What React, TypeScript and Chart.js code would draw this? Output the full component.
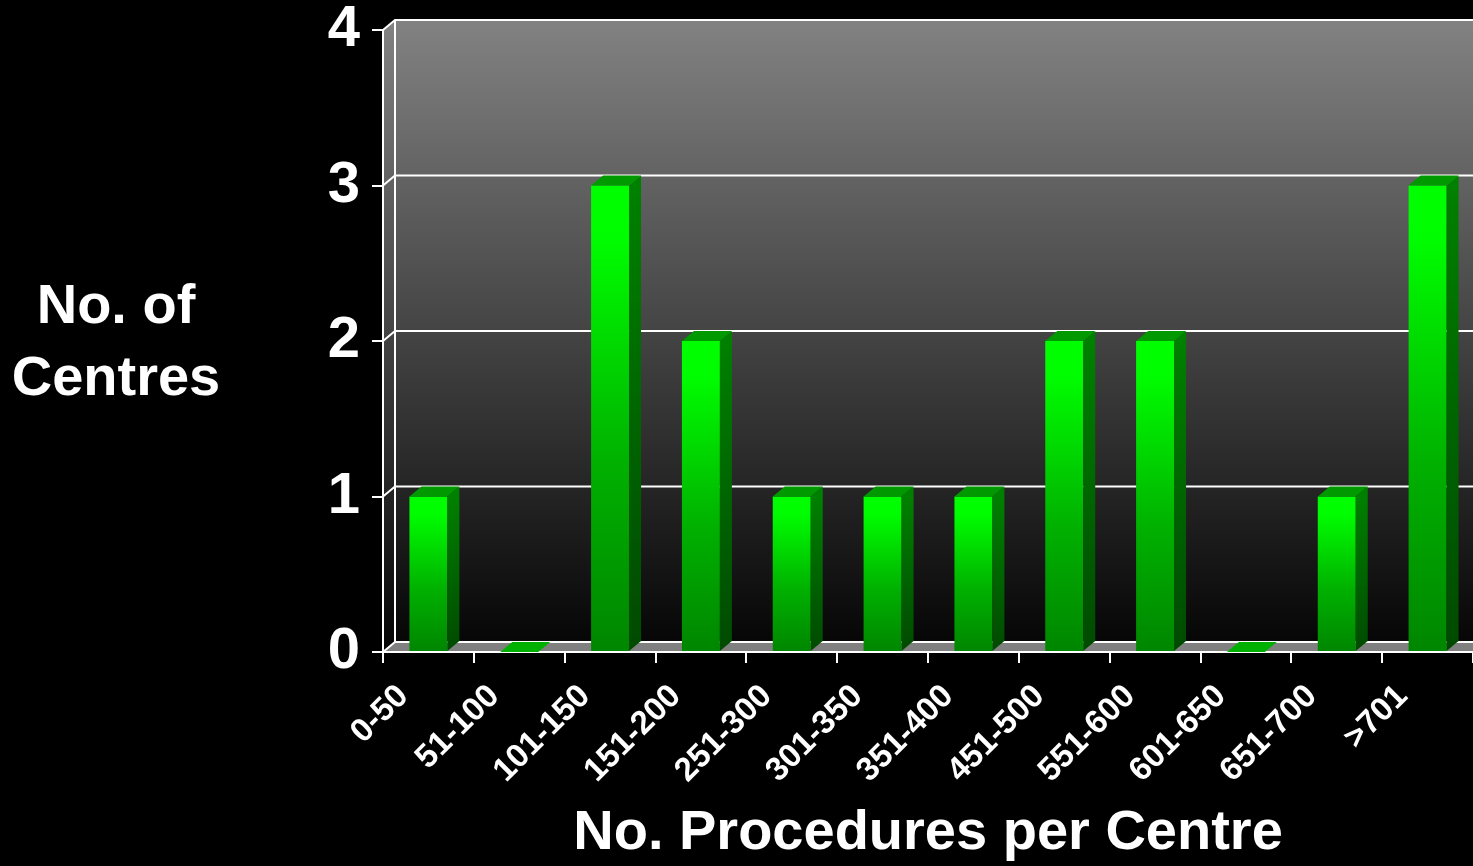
import React, { useEffect, useRef } from "react";
import { Chart, registerables } from "chart.js";

Chart.register(...registerables);

const categories = [
  "0-50", "51-100", "101-150", "151-200", "251-300", "301-350",
  "351-400", "451-500", "551-600", "601-650", "651-700", ">701",
];
const centres = [1, 0, 3, 2, 1, 1, 1, 2, 2, 0, 1, 3];
const yMin = 0;
const yMax = 4;
const yTitleLines = ["No. of", "Centres"];
const xTitle = "No. Procedures per Centre";

const DX = 12;
const DY = 10;
const FONT = "'Liberation Sans', Arial, sans-serif";
const NARROW = "'Liberation Sans Narrow', 'Arial Narrow', 'Liberation Sans', Arial, sans-serif";

const ok = (...v: number[]) => v.every((n) => Number.isFinite(n));

const wallsPlugin = {
  id: "walls3d",
  beforeDatasetsDraw(chart: any) {
    const { ctx, chartArea: a, scales } = chart;
    const y = scales.y;
    const L = a.left, T = a.top, B = a.bottom;
    const W = chart.width;
    if (!ok(L, T, B, W)) return;
    ctx.save();
    const g = ctx.createLinearGradient(0, T - DY, 0, B - DY);
    g.addColorStop(0, "#828282");
    g.addColorStop(1, "#060606");
    ctx.fillStyle = g;
    ctx.fillRect(L + DX, T - DY, W - L - DX, B - T);
    ctx.beginPath();
    ctx.moveTo(L, T);
    ctx.lineTo(L + DX, T - DY);
    ctx.lineTo(L + DX, B - DY);
    ctx.lineTo(L, B);
    ctx.closePath();
    ctx.fill();
    ctx.fillStyle = "#808080";
    ctx.beginPath();
    ctx.moveTo(L, B);
    ctx.lineTo(L + DX, B - DY);
    ctx.lineTo(W, B - DY);
    ctx.lineTo(W, B);
    ctx.closePath();
    ctx.fill();
    ctx.strokeStyle = "#ffffff";
    ctx.lineWidth = 2;
    for (let v = yMin; v <= yMax; v++) {
      const yp = y.getPixelForValue(v);
      ctx.beginPath();
      ctx.moveTo(L, yp);
      ctx.lineTo(L + DX, yp - DY);
      ctx.lineTo(W, yp - DY);
      ctx.stroke();
    }
    ctx.beginPath();
    ctx.moveTo(L + DX, T - DY);
    ctx.lineTo(L + DX, B - DY);
    ctx.stroke();
    ctx.beginPath();
    ctx.moveTo(L, T);
    ctx.lineTo(L, B);
    ctx.lineTo(W, B);
    ctx.stroke();
    ctx.restore();
  },
  afterDatasetsDraw(chart: any) {
    const { ctx } = chart;
    const meta = chart.getDatasetMeta(0);
    ctx.save();
    meta.data.forEach((bar: any) => {
      const { x, y, base, width } = bar.getProps(["x", "y", "base", "width"], true);
      if (!ok(x, y, base, width)) return;
      const l = x - width / 2;
      const r = x + width / 2;
      const zero = Math.abs(base - y) < 0.5;
      if (!zero) {
        const sg = ctx.createLinearGradient(0, y, 0, base);
        sg.addColorStop(0, "#008000");
        sg.addColorStop(1, "#004a00");
        ctx.fillStyle = sg;
        ctx.beginPath();
        ctx.moveTo(r, y);
        ctx.lineTo(r + DX, y - DY);
        ctx.lineTo(r + DX, base - DY);
        ctx.lineTo(r, base);
        ctx.closePath();
        ctx.fill();
      }
      ctx.fillStyle = zero ? "#00b000" : "#009a00";
      ctx.beginPath();
      ctx.moveTo(l, y);
      ctx.lineTo(r, y);
      ctx.lineTo(r + DX, y - DY);
      ctx.lineTo(l + DX, y - DY);
      ctx.closePath();
      ctx.fill();
    });
    ctx.restore();
  },
  afterDraw(chart: any) {
    const { ctx } = chart;
    ctx.save();
    ctx.fillStyle = "#ffffff";
    ctx.font = `bold 56px ${FONT}`;
    ctx.textAlign = "center";
    ctx.textBaseline = "alphabetic";
    ctx.fillText(yTitleLines[0], 116, 323);
    ctx.fillText(yTitleLines[1], 116, 395);
    ctx.restore();
  },
};

export default function App() {
  const ref = useRef<HTMLCanvasElement>(null);
  useEffect(() => {
    document.body.style.margin = "0";
    const chart = new Chart(ref.current as HTMLCanvasElement, {
      type: "bar",
      data: {
        labels: categories,
        datasets: [
          {
            data: centres,
            borderWidth: 0,
            categoryPercentage: 1,
            barPercentage: 0.418,
            backgroundColor: (c: any) => {
              const ch = c.chart;
              const ys = ch.scales && ch.scales.y;
              const v = c.raw;
              if (!ys || typeof v !== "number" || v === 0) return "#00ff00";
              const top = ys.getPixelForValue(v);
              const bot = ys.getPixelForValue(0);
              if (!ok(top, bot) || bot - top < 1) return "#00e000";
              const g = ch.ctx.createLinearGradient(0, top, 0, bot);
              g.addColorStop(0, "#00ff00");
              g.addColorStop(0.12, "#00fc00");
              g.addColorStop(0.6, "#00b000");
              g.addColorStop(1, "#008600");
              return g;
            },
          },
        ],
      },
      options: {
        animation: false,
        responsive: true,
        maintainAspectRatio: false,
        layout: { padding: { top: 30, left: 0, right: 0, bottom: 0 } },
        plugins: { legend: { display: false }, tooltip: { enabled: false } },
        scales: {
          x: {
            offset: true,
            grid: {
              offset: true,
              drawOnChartArea: false,
              drawTicks: true,
              tickLength: 11,
              color: "#ffffff",
              lineWidth: 2,
            },
            border: { display: false },
            ticks: {
              color: "#ffffff",
              font: { family: FONT, size: 33, weight: "bold", lineHeight: 1.2 },
              minRotation: 45,
              maxRotation: 45,
              autoSkip: false,
              labelOffset: -25,
              padding: 14,
            },
            title: {
              display: true,
              text: xTitle,
              color: "#ffffff",
              font: { family: FONT, size: 56, weight: "bold", lineHeight: 1 },
              padding: { top: 0, bottom: 4 },
            },
            afterFit: (s: any) => {
              s.height = 214;
              s.paddingLeft = 0;
              s.paddingRight = 0;
            },
          },
          y: {
            min: yMin,
            max: yMax,
            grid: {
              drawOnChartArea: false,
              drawTicks: true,
              tickLength: 11,
              color: "#ffffff",
              lineWidth: 2,
            },
            border: { display: false },
            ticks: {
              stepSize: 1,
              color: "#ffffff",
              padding: 12,
              font: { family: NARROW, size: 58, weight: "bold", lineHeight: 1 },
            },
            afterFit: (s: any) => {
              s.width = 383;
              s.paddingTop = 0;
              s.paddingBottom = 0;
            },
          },
        },
      },
      plugins: [wallsPlugin],
    });
    return () => chart.destroy();
  }, []);
  return (
    <div style={{ position: "fixed", left: 0, top: 0, width: "1473px", height: "866px", background: "#000" }}>
      <canvas ref={ref} />
    </div>
  );
}
